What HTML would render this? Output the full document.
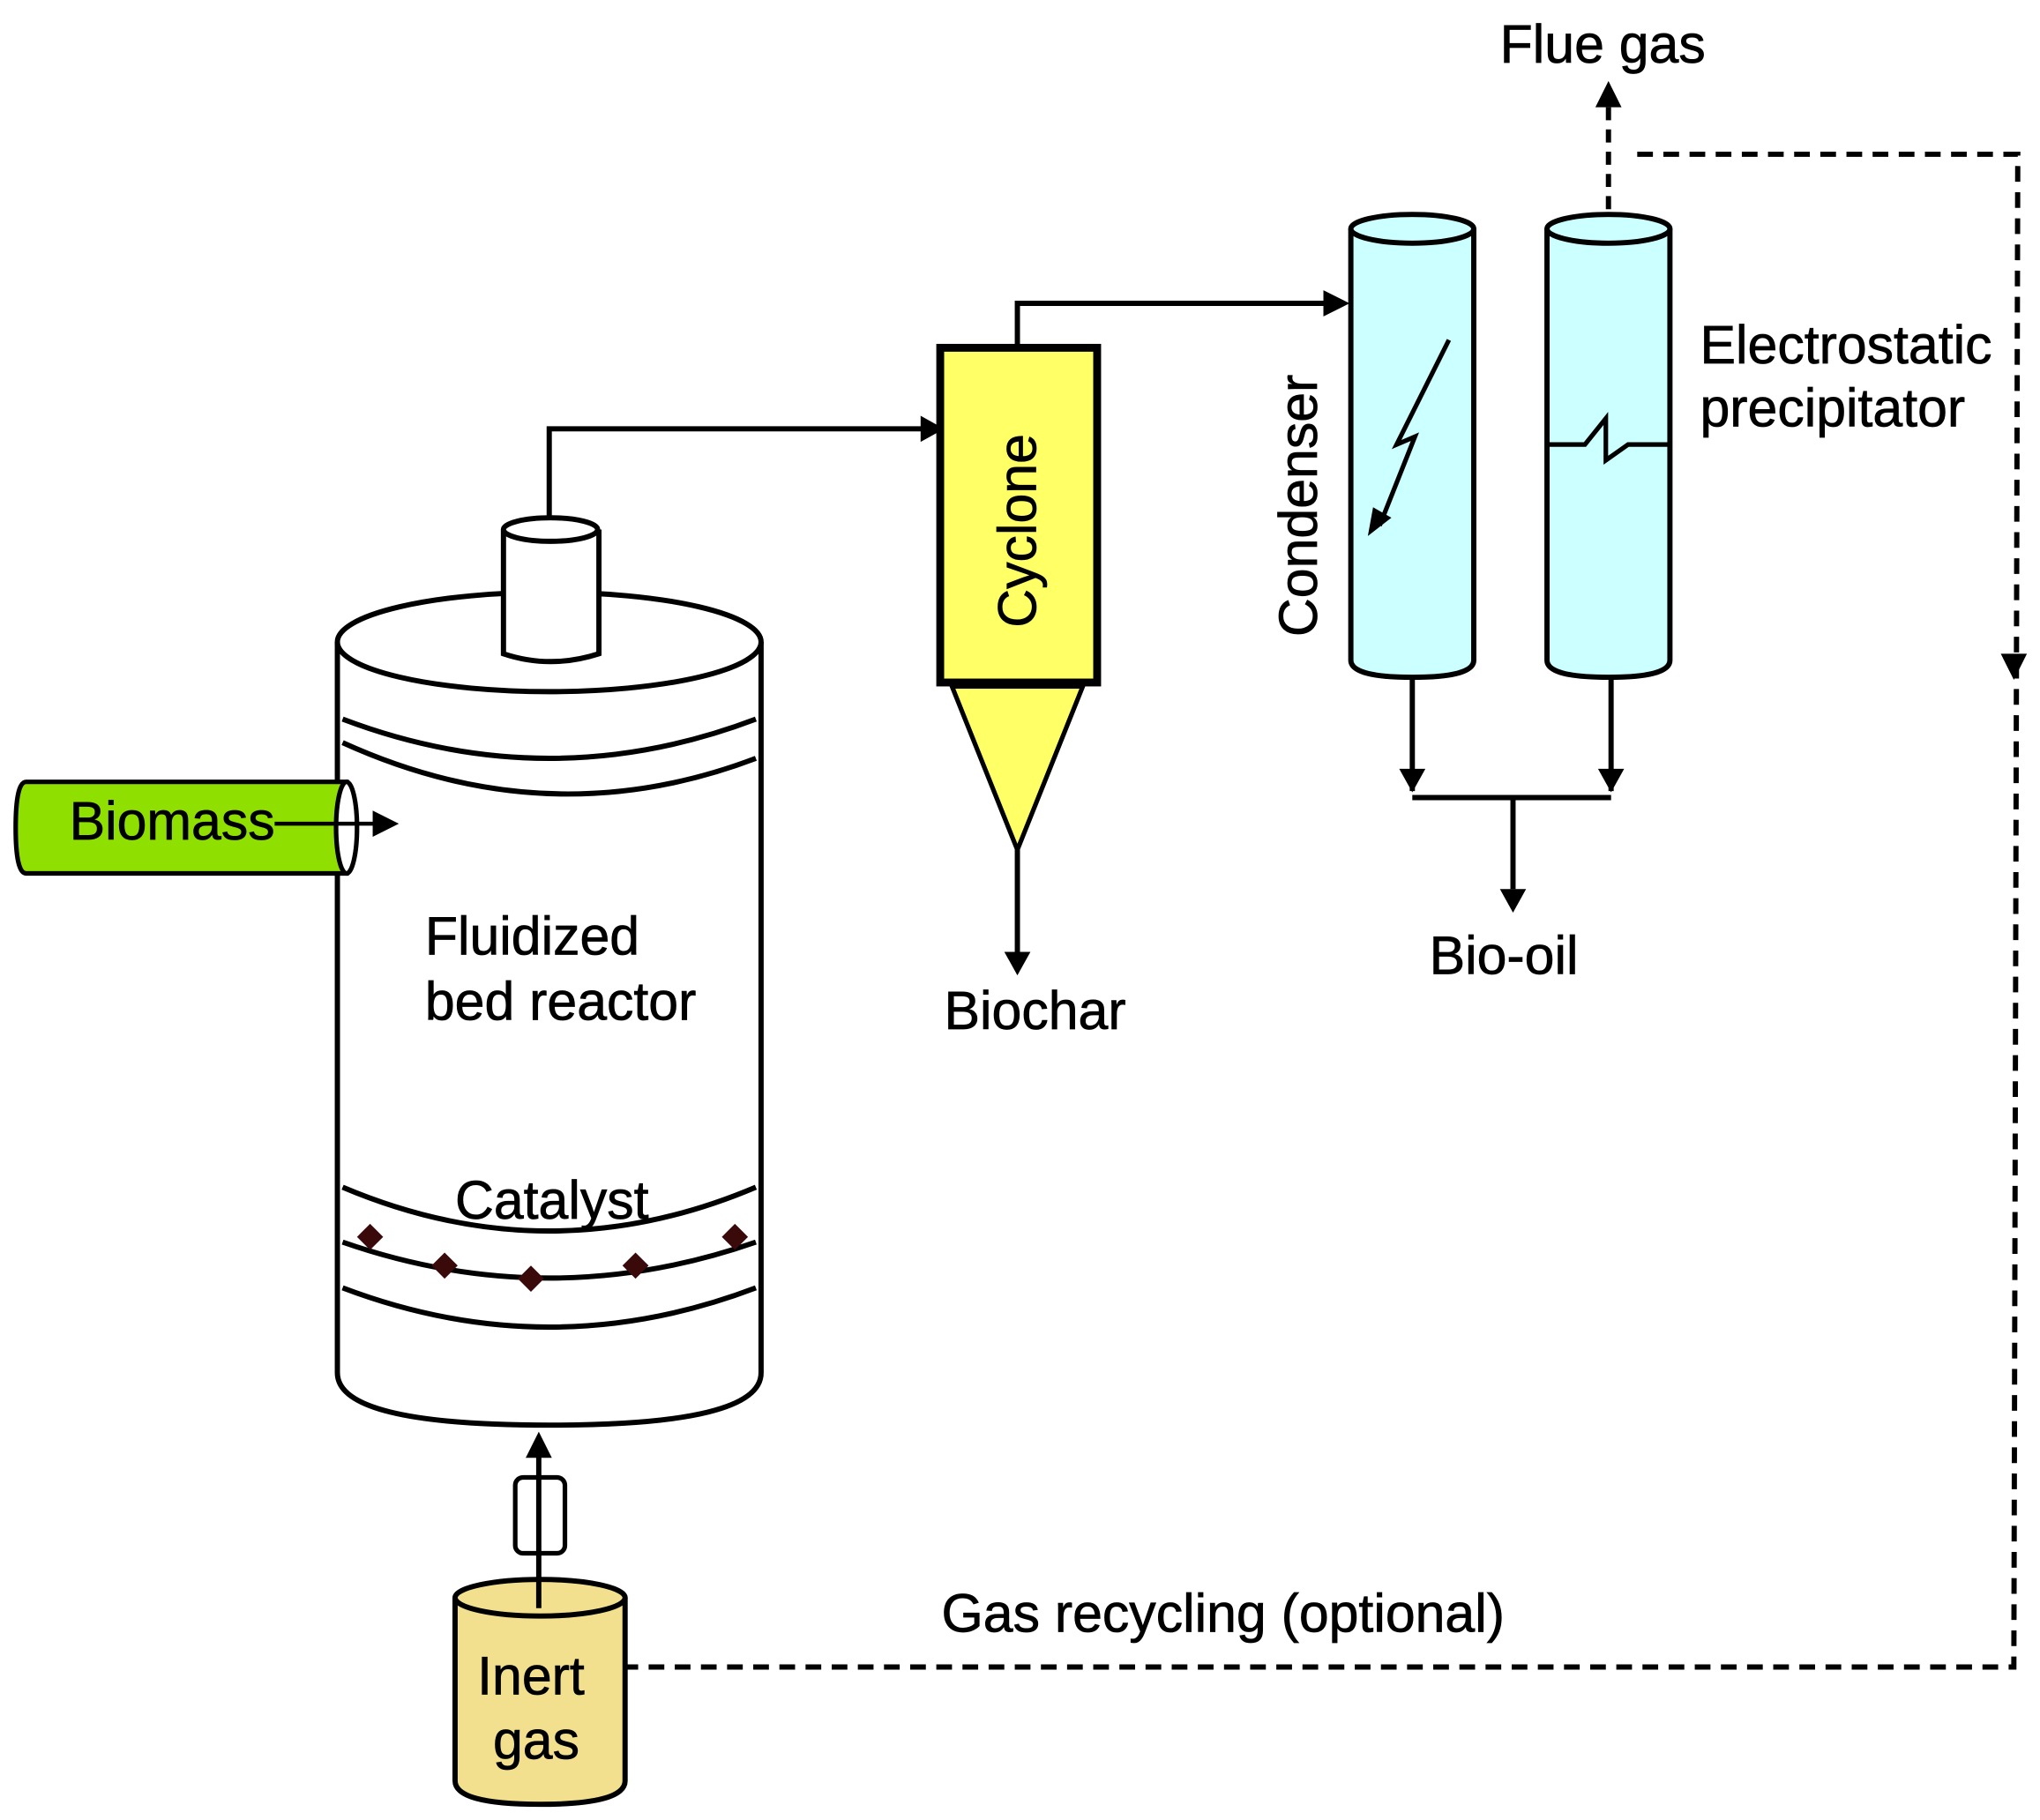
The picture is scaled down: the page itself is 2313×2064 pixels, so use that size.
<!DOCTYPE html>
<html><head><meta charset="utf-8"><style>html,body{margin:0;padding:0;background:#fff}svg{display:block}text{font-family:"Liberation Sans",sans-serif;fill:#000;stroke:#000;stroke-width:0.5}</style></head>
<body>
<svg width="2313" height="2064" viewBox="0 0 1560 1392" preserveAspectRatio="none" xmlns="http://www.w3.org/2000/svg">
<g stroke="#000" stroke-width="4" fill="none">
<!-- flue gas -->
<line x1="1230" y1="160" x2="1230" y2="78" stroke-dasharray="10,7"/>
<path d="M1220,82L1230,62L1240,82z" fill="#000" stroke="none"/>
<!-- recycle dashed -->
<polyline points="1252,118 1543,118 1540,1275 478,1275" stroke-dasharray="12,8"/>
<path d="M1530,500L1540,520L1550,500z" fill="#000" stroke="none"/>
<!-- condenser -->
<path d="M1033,175 L1033,505 Q1033,518 1080,518 Q1127,518 1127,505 L1127,175" fill="#ccffff"/>
<ellipse cx="1080" cy="175" rx="47" ry="11" fill="#ccffff"/>
<polyline points="1108,260 1068,340 1082,334 1055,402" stroke-width="3.5"/>
<path d="M1046,410L1050,388L1064,396z" fill="#000" stroke="none"/>
<!-- ESP -->
<path d="M1183,175 L1183,505 Q1183,518 1230,518 Q1277,518 1277,505 L1277,175" fill="#ccffff"/>
<ellipse cx="1230" cy="175" rx="47" ry="11" fill="#ccffff"/>
<polyline points="1183,340 1212,340 1228,320 1228,352 1245,340 1277,340" stroke-width="3.5"/>
<!-- bio-oil piping -->
<line x1="1080" y1="518" x2="1080" y2="605"/>
<line x1="1232" y1="518" x2="1232" y2="605"/>
<path d="M1070,588L1080,606L1090,588z M1222,588L1232,606L1242,588z" fill="#000" stroke="none"/>
<line x1="1080" y1="610" x2="1232" y2="610"/>
<line x1="1157" y1="610" x2="1157" y2="680"/>
<path d="M1147,680L1157,698L1167,680z" fill="#000" stroke="none"/>
<!-- cyclone -->
<rect x="719" y="266" width="120" height="256" fill="#ffff66" stroke-width="6"/>
<path d="M728,525 L828,525 L778,650 z" fill="#ffff66" stroke-width="3.5"/>
<line x1="778" y1="650" x2="778" y2="730"/>
<path d="M768,728L778,746L788,728z" fill="#000" stroke="none"/>
<polyline points="778,266 778,232 1015,232"/>
<path d="M1012,222L1032,232L1012,242z" fill="#000" stroke="none"/>
<polyline points="420,398 420,328 708,328"/>
<path d="M704,318L722,328L704,338z" fill="#000" stroke="none"/>
<!-- reactor -->
<path d="M258,491 L258,1050 Q258,1090 420,1090 Q582,1090 582,1050 L582,491" fill="#fff"/>
<ellipse cx="420" cy="491" rx="162" ry="38" fill="#fff"/>
<path d="M262,550 Q420,610 578,550"/>
<path d="M262,568 Q420,640 578,580"/>
<path d="M262,908 Q420,975 578,908"/>
<path d="M262,950 Q420,1005 578,950"/>
<path d="M262,985 Q420,1045 578,985"/>
<!-- nozzle -->
<path d="M385,405 L385,500 Q421,512 458,500 L458,405" fill="#fff"/>
<ellipse cx="421" cy="405" rx="36" ry="9" fill="#fff"/>
<!-- biomass -->
<path d="M20,598 L265,598 L265,668 L20,668 Q12,668 12,633 Q12,598 20,598 z" fill="#8fe000" stroke-width="3.5"/>
<ellipse cx="265" cy="633" rx="8" ry="35" fill="#fff" stroke-width="3.5"/>
<line x1="210" y1="630" x2="290" y2="630" stroke-width="3"/>
<path d="M285,620L305,630L285,640z" fill="#000" stroke="none"/>
<!-- inert gas -->
<line x1="412" y1="1230" x2="412" y2="1112"/>
<path d="M402,1115L412,1095L422,1115z" fill="#000" stroke="none"/>
<rect x="394" y="1130" width="38" height="58" rx="6" fill="none" stroke-width="3.5"/>
<path d="M348,1222 L348,1362 Q348,1380 413,1380 Q478,1380 478,1362 L478,1222" fill="#f2e08e"/>
<ellipse cx="413" cy="1222" rx="65" ry="14" fill="#f2e08e"/>
<line x1="412" y1="1208" x2="412" y2="1230"/>
</g>
<g fill="#3a0a0a">
<path d="M283,936l10,10l-10,10l-10,-10z M340,958l10,10l-10,10l-10,-10z M406,968l10,10l-10,10l-10,-10z M486,958l10,10l-10,10l-10,-10z M562,936l10,10l-10,10l-10,-10z"/>
</g>
<g font-size="41">
<text x="1147" y="48">Flue gas</text>
<text x="1300" y="278">Electrostatic</text>
<text x="1300" y="326">precipitator</text>
<text transform="translate(1007,487) rotate(-90)">Condenser</text>
<text transform="translate(792,480) rotate(-90)">Cyclone</text>
<text x="1093" y="745">Bio-oil</text>
<text x="722" y="787">Biochar</text>
<text x="53" y="642">Biomass</text>
<text x="325" y="730">Fluidized</text>
<text x="325" y="780">bed reactor</text>
<text x="348" y="932">Catalyst</text>
<text x="720" y="1248">Gas recycling (optional)</text>
<text x="365" y="1296">Inert</text>
<text x="377" y="1345">gas</text>
</g>
</svg>
</body></html>
